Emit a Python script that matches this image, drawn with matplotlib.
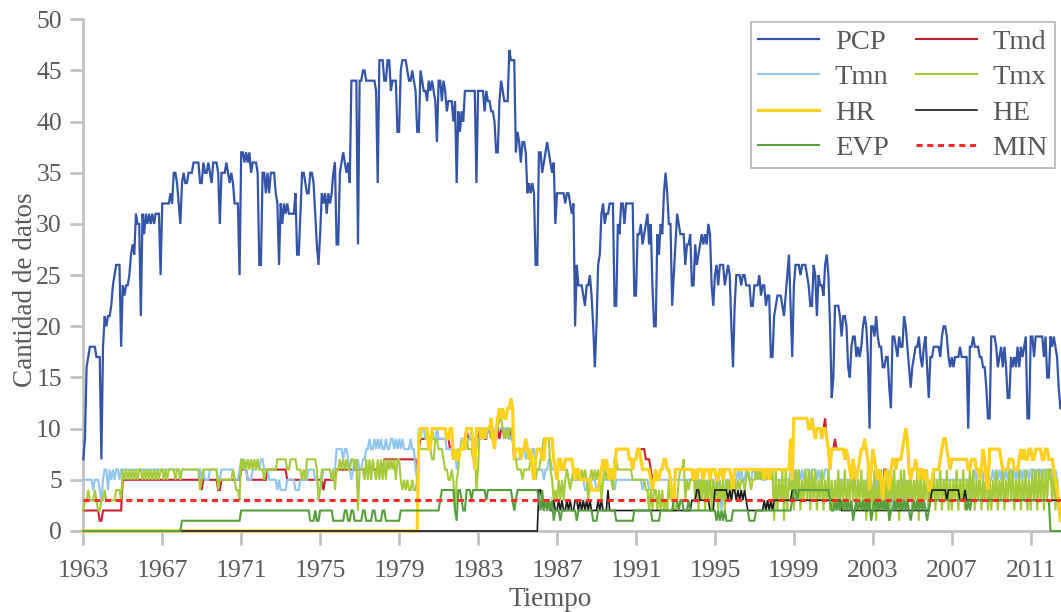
import matplotlib
matplotlib.use("Agg")
import matplotlib.pyplot as plt
import numpy as np

plt.rcParams['font.family'] = ['Liberation Serif', 'DejaVu Serif']

# monthly counts, Jan 1963 - Jul 2012 (one row per year)
anio_inicio = 1963
anios_tick = list(range(1963, 2012, 4))

pcp = [
    [7, 9, 16, 17, 18, 18, 18, 18, 17, 17, 17, 7],
    [18, 21, 20, 21, 21, 22, 24, 25, 26, 26, 26, 18],
    [24, 23, 24, 24, 25, 27, 28, 27, 31, 30, 30, 21],
    [31, 29, 31, 30, 31, 30, 31, 30, 31, 31, 31, 25],
    [32, 32, 32, 32, 32, 33, 32, 35, 35, 34, 32, 30],
    [34, 35, 34, 34, 35, 35, 35, 36, 36, 36, 36, 34],
    [34, 36, 35, 35, 36, 35, 34, 36, 36, 36, 35, 30],
    [35, 35, 35, 36, 35, 34, 35, 34, 32, 32, 32, 25],
    [37, 37, 36, 37, 36, 37, 35, 36, 36, 36, 35, 26],
    [26, 35, 35, 33, 35, 33, 35, 35, 35, 33, 32, 26],
    [32, 30, 32, 31, 32, 31, 31, 31, 31, 33, 27, 27],
    [31, 35, 35, 34, 33, 33, 35, 35, 34, 31, 28, 26],
    [29, 33, 32, 33, 31, 33, 32, 33, 35, 36, 28, 28],
    [35, 36, 37, 36, 35, 36, 34, 44, 44, 44, 44, 28],
    [44, 44, 45, 45, 44, 44, 44, 44, 44, 44, 43, 34],
    [46, 46, 46, 44, 44, 46, 46, 43, 44, 44, 44, 39],
    [39, 45, 46, 46, 46, 45, 44, 44, 45, 44, 43, 39],
    [39, 45, 44, 43, 43, 42, 44, 43, 44, 43, 42, 38],
    [44, 44, 42, 44, 43, 41, 42, 42, 42, 40, 42, 34],
    [41, 39, 41, 40, 43, 43, 43, 43, 43, 43, 43, 34],
    [43, 43, 43, 43, 41, 43, 42, 42, 41, 41, 40, 37],
    [37, 42, 44, 43, 42, 42, 42, 47, 46, 46, 46, 37],
    [39, 38, 36, 38, 38, 37, 33, 34, 33, 34, 33, 26],
    [26, 37, 37, 35, 36, 37, 38, 37, 36, 35, 36, 30],
    [33, 33, 33, 33, 33, 32, 33, 33, 32, 31, 32, 20],
    [26, 24, 24, 24, 23, 22, 24, 24, 25, 23, 20, 16],
    [20, 26, 27, 31, 32, 30, 31, 31, 32, 32, 32, 22],
    [22, 30, 29, 32, 32, 30, 32, 32, 32, 32, 32, 23],
    [23, 29, 29, 30, 28, 29, 30, 31, 28, 30, 24, 20],
    [20, 29, 27, 30, 29, 33, 35, 33, 30, 30, 22, 25],
    [28, 31, 30, 29, 29, 29, 26, 28, 28, 29, 24, 24],
    [28, 26, 27, 28, 29, 28, 29, 28, 30, 29, 24, 22],
    [25, 26, 24, 26, 26, 26, 24, 25, 26, 25, 20, 16],
    [22, 25, 25, 25, 24, 25, 25, 24, 24, 24, 22, 22],
    [24, 24, 24, 25, 23, 24, 24, 22, 23, 23, 17, 17],
    [21, 22, 23, 23, 23, 22, 21, 23, 25, 27, 22, 17],
    [24, 26, 26, 26, 25, 26, 26, 26, 25, 24, 22, 22],
    [26, 25, 21, 25, 24, 24, 23, 26, 27, 25, 20, 13],
    [15, 22, 22, 22, 21, 19, 21, 21, 20, 16, 15, 18],
    [19, 19, 17, 18, 17, 18, 20, 21, 20, 17, 10, 20],
    [20, 19, 21, 19, 18, 18, 16, 16, 17, 17, 14, 12],
    [19, 19, 18, 17, 19, 18, 18, 21, 20, 18, 16, 14],
    [16, 17, 18, 18, 19, 17, 16, 18, 19, 16, 13, 17],
    [17, 18, 18, 18, 18, 17, 19, 20, 20, 19, 17, 16],
    [17, 16, 17, 17, 17, 18, 17, 17, 17, 17, 10, 18],
    [18, 19, 18, 18, 18, 17, 17, 16, 16, 14, 11, 11],
    [19, 19, 19, 18, 16, 17, 18, 16, 18, 16, 13, 13],
    [17, 16, 17, 16, 18, 16, 18, 17, 18, 19, 11, 11],
    [19, 19, 17, 19, 19, 19, 19, 19, 17, 19, 15, 15],
    [19, 18, 19, 18, 17, 14, 12],
]

# small series: one hex digit per month, one string per year
tmd = [
    "222222222211", "222222222222", "555555555555", "555555555555",
    "555555555555", "555555555555", "455555555544", "555555555555",
    "666655555555", "555566666666", "666655555555", "555555555555",
    "554555555566", "666666666666", "666666666666", "666777777777",
    "777777777776", "899999999999", "999999988787", "78899a999889",
    "9a9a99aa9a99", "a9aa9aa9a978", "887889878657", "888779999976",
    "577667777765", "665555555444", "445676765665", "888888887767",
    "788888777655", "655667766533", "666666666665", "656665666566",
    "655665666654", "666666666666", "666666566566", "666666666695",
    "bbbbbbbbbaab", "a9aaa9ab9868", "898888878765", "765678898746",
    "876565366546", "77677789a965", "667656656544", "566667899876",
    "777777777766", "777665687548", "888888766667", "776667878778",
    "877888877887", "7765431",
]

tmn = [
    "555555455543", "566465656656", "666666666666", "666666666666",
    "666666666665", "666666666666", "565556666655", "666666665556",
    "776655566676", "776665555545", "444455555444", "555556666554",
    "456666656688", "887887656767", "667788988989", "898898899898",
    "989888898865", "a9aa9999a99a", "999998888786", "88999899a998",
    "999aa9aaaa99", "aaaaaaa99a87", "778887887886", "666656677666",
    "666666655555", "555554455555", "444455555554", "555555555555",
    "555545554445", "555555555555", "555555555555", "545554545555",
    "445424455454", "556565566556", "656565556565", "555555555565",
    "565656566656", "665656566632", "323255555555", "555544545454",
    "435253425342", "524352435253", "332323232233", "555555555555",
    "555555555553", "356565656565", "565656565656", "656565656565",
    "666566656665", "6656532",
]

tmx = [
    "233433343223", "343333334443", "656565656566", "565656565656",
    "656566665665", "666666666664", "566666666645", "555555565443",
    "767676767676", "665666666677", "777766777766", "656577777763",
    "466666656466", "767676677672", "666575757657", "575757676757",
    "754545445445", "888888887799", "888766556525", "688889888784",
    "6aaaaaaa9a9a", "abba9a9aa977", "666566667665", "667899996534",
    "353535654565", "565656535656", "565356566547", "766666666655",
    "555555442424", "424242325342", "235667354556", "362536253625",
    "352535254535", "545455456545", "565656565656", "162536162546",
    "263625363626", "362536253625", "253625362536", "362536251625",
    "261536253616", "362516362536", "253616253625", "362536253625",
    "253625362536", "362536253625", "253625362536", "362536253625",
    "263626362636", "6362521",
]

hr = ["000000000000"] * 17 + [
    "9aaaaa88aaaa", "aaaaa99aa787", "78898aaaa86a", "aa9a9aaab98a",
    "bcbcbbccdc78", "887889878657", "888779999976", "577667777765",
    "665555555444", "445676765665", "888888887767", "788766666545",
    "655667766533", "666666666665", "656665666566", "655665666654",
    "666666666666", "666666566566", "666666666695", "bbbbbbbbbaab",
    "a9aaa9aa9868", "888888878765", "765678898746", "876565356546",
    "77677789a965", "667656656544", "566667899876", "777777777766",
    "777665687548", "888888766667", "776667878778", "877888877887",
    "7765431",
]

he = ["000000000000"] * 23 + [
    "044323232232", "232322323223", "323232323222", "232322242222",
    "222222222222", "222222222222", "222222222222", "222222222233",
    "344333333222", "444444443434", "434343432222", "222222323232",
    "333333333334", "333333333333", "333333333333", "333332222222",
    "222222222222", "222222222222", "222222222222", "222222222223",
    "444444444344", "444443334333", "333333333333", "333333333333",
    "333333333333", "333333333333", "3333333",
]

evp = ["000000000000"] * 5 + [
    "111111111111", "111111111111", "111111111111", "222222222222",
    "222222222222", "222222222222", "222222111211", "222222221111",
    "111221122111", "112211112211", "112211111111", "122222222222",
    "222222222222", "234444444421", "443224443444", "444443444444",
    "444444444323", "444444444444", "432423232312", "221222222222",
    "122222222211", "122222222222", "111111111112", "222222222211",
    "111222222223", "332332223222", "222222222222", "212121211112",
    "222222222111", "122222222222", "222222222223", "443444444444",
    "444444444432", "232323232323", "123232323231", "232323232312",
    "232323232321", "232323232123", "333333333333", "333333333232",
    "333333333333", "333333333333", "333333333333", "333333333333",
    "0000000",
]

minimo = 3  # minimum number of data accepted


def por_mes(filas):
    return np.array([int(c, 16) for fila in filas for c in fila])


pcp_m = np.concatenate([np.array(f) for f in pcp])
n = len(pcp_m)
meses = np.arange(n)
series = {
    'Tmd': por_mes(tmd), 'Tmn': por_mes(tmn), 'Tmx': por_mes(tmx),
    'HR': por_mes(hr), 'HE': por_mes(he), 'EVP': por_mes(evp),
}
for k, v in series.items():
    assert len(v) == n, (k, len(v), n)

fig = plt.figure(figsize=(10.61, 6.12), dpi=100)
ax = fig.add_axes([0.0785, 0.1324, 0.9215, 0.8361])

estilo = [
    ('PCP', pcp_m, '#3355a8', 1.6, '-'),
    ('Tmd', series['Tmd'], '#c8202e', 1.5, '-'),
    ('Tmn', series['Tmn'], '#8fc7ee', 1.5, '-'),
    ('Tmx', series['Tmx'], '#a6cb3a', 1.5, '-'),
    ('HR', series['HR'], '#ffd21f', 2.3, '-'),
    ('HE', series['HE'], '#1a1a1a', 1.2, '-'),
    ('EVP', series['EVP'], '#55a03c', 1.5, '-'),
]
lineas = {}
for z, (nombre, y, color, lw, ls) in enumerate(estilo):
    ln, = ax.plot(meses, y, color=color, lw=lw, ls=ls, zorder=3 + z,
                  clip_on=False, solid_joinstyle='miter')
    lineas[nombre] = ln

ln, = ax.plot(meses, np.full(n, minimo), color='#ff2a2a', lw=2.2,
              dashes=(2.0, 1.5), zorder=12, clip_on=False)
lineas['MIN'] = ln

ax.set_xlim(0, 594.4)
ax.set_ylim(0, 50)
ax.set_yticks(range(0, 51, 5))
ax.set_xticks([(a - anio_inicio) * 12 for a in anios_tick])
ax.set_xticklabels([str(a) for a in anios_tick])

for s in ('top', 'right'):
    ax.spines[s].set_visible(False)
for s in ('left', 'bottom'):
    ax.spines[s].set_color('#bfbfbf')
    ax.spines[s].set_linewidth(1.9)

ax.tick_params(axis='both', direction='out', color='#bfbfbf', width=1.9,
               labelcolor='#595959', labelsize=18.5)
ax.tick_params(axis='x', length=10, pad=11)
ax.tick_params(axis='y', length=9.4, pad=6)

ax.set_xlabel('Tiempo', fontsize=19.5, color='#595959')
ax.set_ylabel('Cantidad de datos', fontsize=19.5, color='#595959')
ax.xaxis.set_label_coords(0.477, -0.110)
ax.yaxis.set_label_coords(-0.046, 0.471)

orden = ['PCP', 'Tmn', 'HR', 'EVP', 'Tmd', 'Tmx', 'HE', 'MIN']
leg = ax.legend([lineas[k] for k in orden], orden, ncol=2,
                loc='upper right', bbox_to_anchor=(1055 / 1061, 1 - 22 / 612),
                bbox_transform=fig.transFigure, fontsize=20.5,
                fancybox=False, framealpha=1, edgecolor='#bfbfbf',
                borderpad=0.25, labelspacing=0.33, handlelength=2.15,
                handletextpad=0.55, columnspacing=0.95, borderaxespad=0)
leg.get_frame().set_linewidth(1.4)
leg.set_zorder(20)
for t in leg.get_texts():
    t.set_color('#595959')

fig.savefig('out.png', dpi=100)
